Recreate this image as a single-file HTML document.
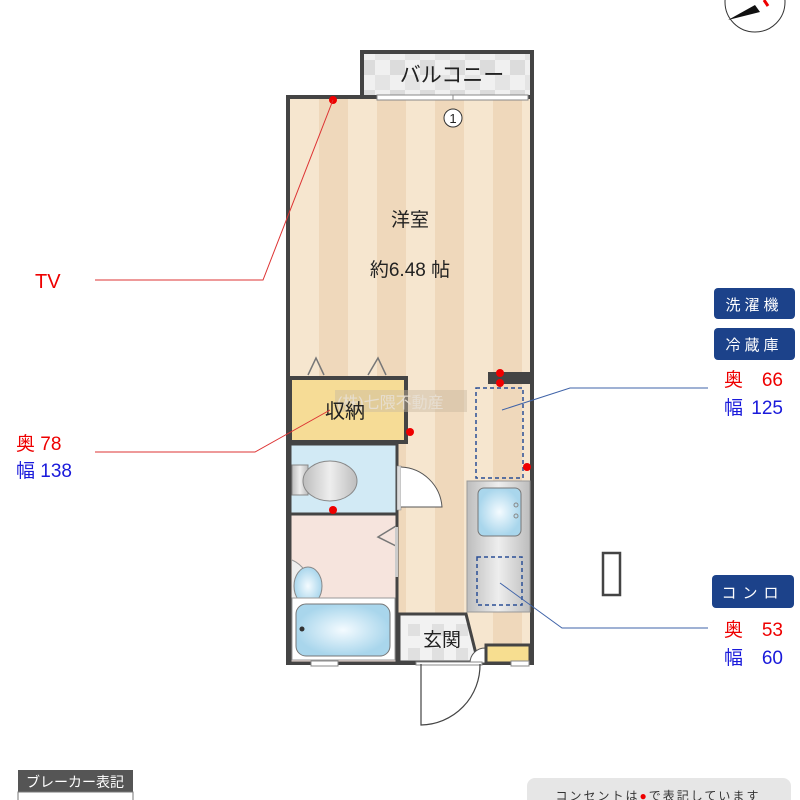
<!DOCTYPE html>
<html><head><meta charset="utf-8"><style>
body{margin:0;background:#fff;}
svg{display:block;font-family:"Liberation Sans","Noto Sans CJK JP",sans-serif;}
</style></head><body>
<svg width="800" height="800" viewBox="0 0 800 800" xmlns="http://www.w3.org/2000/svg">
<defs>
<pattern id="st" x="290" y="0" width="58" height="10" patternUnits="userSpaceOnUse">
<rect width="29" height="10" fill="#f6e6cf"/><rect x="29" width="29" height="10" fill="#efd8bb"/>
</pattern>
<pattern id="ck" x="0" y="0" width="30" height="30" patternUnits="userSpaceOnUse">
<rect width="30" height="30" fill="#f0f0f0"/><rect width="15" height="15" fill="#dcdcdc"/><rect x="15" y="15" width="15" height="15" fill="#e4e4e4"/>
</pattern>
<pattern id="tl" x="0" y="0" width="24" height="24" patternUnits="userSpaceOnUse">
<rect width="24" height="24" fill="#f2f2f2"/><rect width="12" height="12" fill="#e0e0e0"/>
</pattern>
<linearGradient id="gy" x1="0" x2="1"><stop offset="0" stop-color="#bdbdbd"/><stop offset=".5" stop-color="#eee"/><stop offset="1" stop-color="#bdbdbd"/></linearGradient>
<radialGradient id="bl"><stop offset="0" stop-color="#f4fbff"/><stop offset="1" stop-color="#a9d6ec"/></radialGradient>
</defs>

<circle cx="755" cy="2" r="30" fill="#fff" stroke="#333" stroke-width="1"/>
<polygon points="728,20 755,5 760,12" fill="#111"/>
<path d="M764 0 L768 6" stroke="#e00" stroke-width="3"/>

<rect x="362" y="52" width="170" height="47" fill="url(#ck)" stroke="#444" stroke-width="4"/>
<text x="452" y="82" font-size="21" text-anchor="middle" fill="#222">バルコニー</text>

<rect x="290" y="99" width="240" height="562" fill="url(#st)"/>
<rect x="288" y="97" width="244" height="566" fill="none" stroke="#444" stroke-width="4"/>
<rect x="377" y="95" width="151" height="5" fill="#fff" stroke="#888" stroke-width="1"/>
<line x1="453" y1="95" x2="453" y2="100" stroke="#888"/>
<circle cx="453" cy="118" r="9" fill="#fff" stroke="#333"/>
<text x="453" y="123" font-size="13" text-anchor="middle" fill="#222">1</text>

<text x="410" y="226" font-size="19" text-anchor="middle" fill="#222">洋室</text>
<text x="410" y="276" font-size="19" text-anchor="middle" fill="#222">約6.48 帖</text>

<path d="M308 375 L316 358 L324 375 M368 375 L378 358 L386 375" fill="none" stroke="#777" stroke-width="1.5"/>

<rect x="290" y="378" width="116" height="64" fill="#f6dc96" stroke="#444" stroke-width="4"/>
<rect x="335" y="390" width="132" height="22" fill="#c8b8a0" opacity=".45"/>
<text x="337" y="408" font-size="16" fill="#e8e0d4" opacity=".9">(株)七隈不動産</text>
<text x="345" y="418" font-size="20" text-anchor="middle" fill="#222">収納</text>

<rect x="290" y="444" width="107" height="70" fill="#d2eaf5" stroke="#444" stroke-width="3"/>
<rect x="292" y="465" width="16" height="30" fill="url(#gy)" stroke="#888"/>
<ellipse cx="330" cy="481" rx="27" ry="20" fill="url(#gy)" stroke="#888"/>
<rect x="397" y="466" width="4" height="44" fill="#ddd" stroke="#888" stroke-width=".5"/>
<path d="M401 467 A43 43 0 0 1 442 507 L401 507" fill="#fff" stroke="#555"/>

<rect x="290" y="514" width="107" height="149" fill="#f6e4dd" stroke="#444" stroke-width="3"/>
<polyline points="396,526 378,537 396,546" fill="none" stroke="#777" stroke-width="1.5"/>
<rect x="395" y="527" width="3" height="50" fill="#ccc"/>
<path d="M292 560 A30 30 0 0 1 292 615" fill="#eee" stroke="#999"/>
<ellipse cx="308" cy="586" rx="14" ry="19" fill="url(#bl)" stroke="#888"/>
<rect x="292" y="598" width="103" height="62" fill="#fff" stroke="#999"/>
<rect x="296" y="604" width="94" height="52" rx="10" fill="url(#bl)" stroke="#777"/>
<circle cx="302" cy="629" r="2.5" fill="#333"/>
<rect x="311" y="661" width="27" height="5" fill="#fff" stroke="#888"/>

<rect x="467" y="481" width="63" height="131" fill="url(#gy)" stroke="#999"/>
<rect x="478" y="488" width="43" height="48" rx="6" fill="url(#bl)" stroke="#777"/>
<circle cx="516" cy="505" r="2" fill="none" stroke="#888"/><circle cx="516" cy="516" r="2" fill="none" stroke="#888"/>
<rect x="477" y="557" width="45" height="48" fill="none" stroke="#2a4f96" stroke-width="1.5" stroke-dasharray="4,3"/>
<rect x="476" y="388" width="47" height="90" fill="none" stroke="#2a4f96" stroke-width="1.5" stroke-dasharray="4,3"/>
<rect x="488" y="372" width="42" height="12" fill="#444"/>

<path d="M399 614 L466 614 L478 662 L399 662 Z" fill="url(#tl)" stroke="#444" stroke-width="3"/>
<text x="442" y="646" font-size="19" text-anchor="middle" fill="#222">玄関</text>
<path d="M470 663 A15 15 0 0 1 485 648 L485 663Z" fill="#fff" stroke="#555"/>
<rect x="486" y="645" width="44" height="18" fill="#f7de90" stroke="#444" stroke-width="3"/>
<rect x="511" y="661" width="18" height="5" fill="#fff" stroke="#888"/>
<rect x="416" y="662" width="66" height="3" fill="#fff" stroke="#888"/>
<path d="M421 664 L421 725 A60 60 0 0 0 480 664" fill="none" stroke="#444" stroke-width="1.2"/>

<g fill="#e00">
<circle cx="333" cy="100" r="4"/><circle cx="500" cy="373" r="4"/><circle cx="500" cy="383" r="4"/>
<circle cx="410" cy="432" r="4"/><circle cx="527" cy="467" r="4"/><circle cx="333" cy="510" r="4"/>
</g>

<polyline points="95,280 263,280 333,100" fill="none" stroke="#d33" stroke-width="1"/>
<polyline points="95,452 255,452 330,410" fill="none" stroke="#d33" stroke-width="1"/>
<polyline points="502,410 570,388 708,388" fill="none" stroke="#3f63a8" stroke-width="1"/>
<polyline points="500,583 562,628 708,628" fill="none" stroke="#3f63a8" stroke-width="1"/>

<text x="35" y="288" font-size="20" fill="#e00">TV</text>
<text x="16" y="450" font-size="19" fill="#e00">奥 78</text>
<text x="16" y="477" font-size="19" fill="#1a1adb">幅 138</text>

<rect x="714" y="288" width="81" height="31" rx="4" fill="#1c428a"/>
<text x="754" y="310" font-size="15" fill="#fff" text-anchor="middle" letter-spacing="4">洗濯機</text>
<rect x="714" y="328" width="81" height="32" rx="4" fill="#1c428a"/>
<text x="754" y="350" font-size="15" fill="#fff" text-anchor="middle" letter-spacing="4">冷蔵庫</text>
<text x="724" y="386" font-size="19" fill="#e00">奥</text><text x="783" y="386" font-size="19" fill="#e00" text-anchor="end">66</text>
<text x="724" y="414" font-size="19" fill="#1a1adb">幅</text><text x="783" y="414" font-size="19" fill="#1a1adb" text-anchor="end">125</text>

<rect x="712" y="575" width="82" height="33" rx="4" fill="#1c428a"/>
<text x="753" y="598" font-size="15" fill="#fff" text-anchor="middle" letter-spacing="6">コンロ</text>
<text x="724" y="636" font-size="19" fill="#e00">奥</text><text x="783" y="636" font-size="19" fill="#e00" text-anchor="end">53</text>
<text x="724" y="664" font-size="19" fill="#1a1adb">幅</text><text x="783" y="664" font-size="19" fill="#1a1adb" text-anchor="end">60</text>

<rect x="603" y="553" width="17" height="42" fill="none" stroke="#444" stroke-width="2.5"/>

<rect x="18" y="770" width="115" height="22" fill="#555"/>
<text x="75" y="787" font-size="14" fill="#fff" text-anchor="middle">ブレーカー表記</text>
<rect x="18" y="792" width="115" height="10" fill="#fff" stroke="#777"/>
<rect x="527" y="778" width="264" height="30" rx="8" fill="#e6e6e6"/>
<text x="658" y="800" font-size="12" fill="#333" text-anchor="middle" letter-spacing="2">コンセントは<tspan fill="#e00">●</tspan>で表記しています</text>
</svg>
</body></html>
